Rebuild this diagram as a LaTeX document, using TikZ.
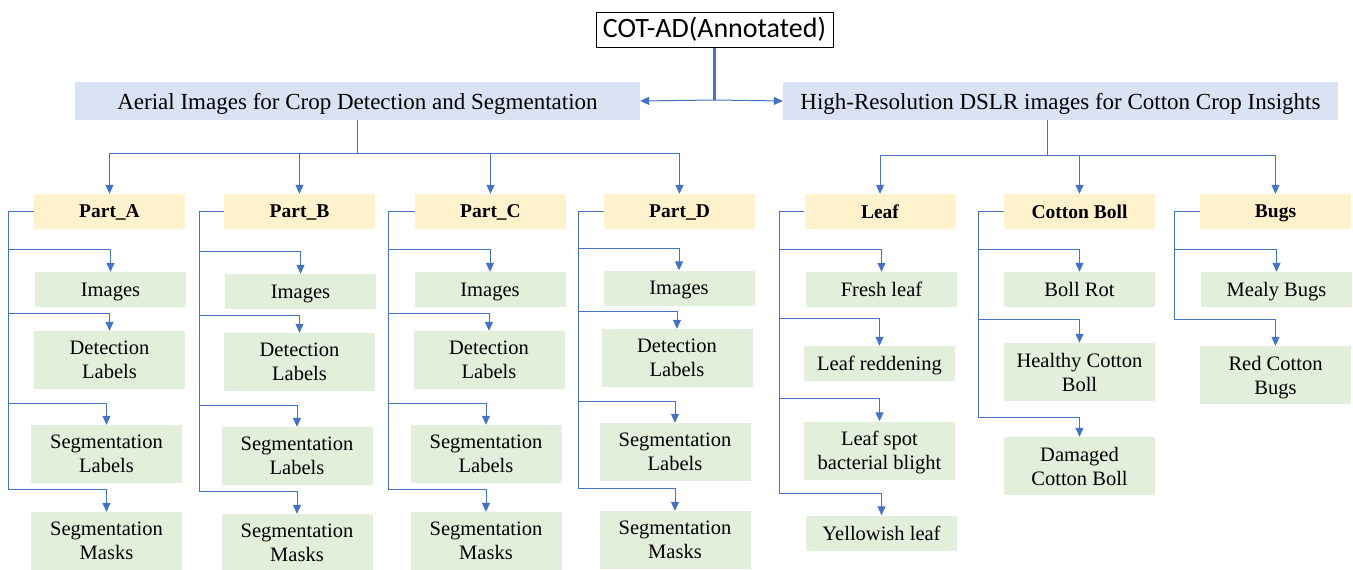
\documentclass[tikz,border=0pt]{standalone}
\usepackage{fontspec}
\setmainfont{Liberation Serif}
\newfontfamily\cotfont{Carlito}
\usepackage{tikz}
\usetikzlibrary{arrows.meta, positioning, calc}

\definecolor{linkblue}{HTML}{4472C4}
\definecolor{groupfill}{HTML}{DAE3F3}
\definecolor{partfill}{HTML}{FFF2CC}
\definecolor{itemfill}{HTML}{E2EFDA}

\begin{document}
\begin{tikzpicture}[x=1pt, y=-1pt,
    root/.style={rectangle, draw=black, fill=white, line width=1pt, minimum width=237pt, minimum height=35pt, inner sep=0pt, font=\cotfont\fontsize{28}{32}\selectfont},
    group/.style={rectangle, fill=groupfill, minimum height=38pt, inner sep=0pt, text depth=0pt, font=\fontsize{23}{27}\selectfont},
    part/.style={rectangle, fill=partfill, minimum width=151pt, minimum height=35pt, inner sep=0pt, text depth=0pt, font=\fontsize{19.5}{23}\selectfont\bfseries},
    item/.style={rectangle, fill=itemfill, minimum width=151pt, minimum height=35pt, inner sep=0pt, text depth=0pt, align=center, font=\fontsize{20.5}{24}\selectfont},
    tall/.style={item, minimum height=58pt},
    arrow/.style={-{Triangle[length=9pt, width=8pt]}, draw=linkblue, line width=1pt},
    stem/.style={draw=linkblue, line width=2.5pt}
]
\useasboundingbox (0,0) rectangle (1353,570);

% Root and groups
\node[root] (cot) at (714.5, 29.5) {COT-AD(Annotated)};
\node[group, minimum width=565pt] (aerial) at (357.5, 101) {Aerial Images for Crop Detection and Segmentation};
\node[group, minimum width=555pt] (hires) at (1060.5, 101) {High-Resolution DSLR images for Cotton Crop Insights};

\coordinate (split) at (714.5, 100);
\draw[stem] (cot.south) -- (split);
\draw[arrow] (split) -- (aerial.east);
\draw[arrow] (split) -- (hires.west);

% Parts
\node[part] (pa) at (109.5, 211.5) {Part\_A};
\node[part] (pb) at (299.5, 211.5) {Part\_B};
\node[part] (pc) at (490.5, 211.5) {Part\_C};
\node[part] (pd) at (679.5, 211.5) {Part\_D};

\coordinate (abus) at (357.5, 153);
\draw[arrow] (aerial.south) -- (abus) -| (pa.north);
\draw[arrow] (aerial.south) -- (abus) -| (pb.north);
\draw[arrow] (aerial.south) -- (abus) -| (pc.north);
\draw[arrow] (aerial.south) -- (abus) -| (pd.north);

% Categories
\node[part] (leaf) at (880, 211.5) {Leaf};
\node[part] (boll) at (1079.5, 211.5) {Cotton Boll};
\node[part] (bugs) at (1275.5, 211.5) {Bugs};

\coordinate (hbus) at (1047, 155);
\draw[arrow] (hbus |- hires.south) -- (hbus) -| (leaf.north);
\draw[arrow] (hbus |- hires.south) -- (hbus) -| (boll.north);
\draw[arrow] (hbus |- hires.south) -- (hbus) -| (bugs.north);

% Part_A items
\coordinate (ra) at (8, 211.5);
\node[item] (pa1) at (110.5, 289.5) {Images};
\node[tall] (pa2) at (109.5, 360) {Detection\\Labels};
\node[tall] (pa3) at (106.5, 454) {Segmentation\\Labels};
\node[tall] (pa4) at (106.5, 541) {Segmentation\\Masks};
\draw[arrow] (pa.west) -- (ra) |- ([yshift=22pt]pa1.north) -- (pa1.north);
\draw[arrow] (pa.west) -- (ra) |- ([yshift=17pt]pa2.north) -- (pa2.north);
\draw[arrow] (pa.west) -- (ra) |- ([yshift=21pt]pa3.north) -- (pa3.north);
\draw[arrow] (pa.west) -- (ra) |- ([yshift=22pt]pa4.north) -- (pa4.north);

% Part_B items
\coordinate (rb) at (199, 211.5);
\node[item] (pb1) at (300.5, 291.5) {Images};
\node[tall] (pb2) at (299.5, 362) {Detection\\Labels};
\node[tall] (pb3) at (297, 456) {Segmentation\\Labels};
\node[tall] (pb4) at (297, 543) {Segmentation\\Masks};
\draw[arrow] (pb.west) -- (rb) |- ([yshift=22pt]pb1.north) -- (pb1.north);
\draw[arrow] (pb.west) -- (rb) |- ([yshift=17pt]pb2.north) -- (pb2.north);
\draw[arrow] (pb.west) -- (rb) |- ([yshift=21pt]pb3.north) -- (pb3.north);
\draw[arrow] (pb.west) -- (rb) |- ([yshift=22pt]pb4.north) -- (pb4.north);

% Part_C items
\coordinate (rc) at (388, 211.5);
\node[item] (pc1) at (490, 289.5) {Images};
\node[tall] (pc2) at (489, 360) {Detection\\Labels};
\node[tall] (pc3) at (486, 454) {Segmentation\\Labels};
\node[tall] (pc4) at (486, 541) {Segmentation\\Masks};
\draw[arrow] (pc.west) -- (rc) |- ([yshift=22pt]pc1.north) -- (pc1.north);
\draw[arrow] (pc.west) -- (rc) |- ([yshift=17pt]pc2.north) -- (pc2.north);
\draw[arrow] (pc.west) -- (rc) |- ([yshift=21pt]pc3.north) -- (pc3.north);
\draw[arrow] (pc.west) -- (rc) |- ([yshift=22pt]pc4.north) -- (pc4.north);

% Part_D items
\coordinate (rd) at (578, 211.5);
\node[item] (pd1) at (679, 288) {Images};
\node[tall] (pd2) at (677, 358) {Detection\\Labels};
\node[tall] (pd3) at (675, 452) {Segmentation\\Labels};
\node[tall] (pd4) at (675, 540) {Segmentation\\Masks};
\draw[arrow] (pd.west) -- (rd) |- ([yshift=22pt]pd1.north) -- (pd1.north);
\draw[arrow] (pd.west) -- (rd) |- ([yshift=17pt]pd2.north) -- (pd2.north);
\draw[arrow] (pd.west) -- (rd) |- ([yshift=21pt]pd3.north) -- (pd3.north);
\draw[arrow] (pd.west) -- (rd) |- ([yshift=22pt]pd4.north) -- (pd4.north);

% Leaf items
\coordinate (rl) at (779, 211.5);
\node[item] (leaf1) at (881.5, 289.5) {Fresh leaf};
\node[item] (leaf2) at (879.5, 363.5) {Leaf reddening};
\node[tall] (leaf3) at (879.5, 450.5) {Leaf spot\\bacterial blight};
\node[item] (leaf4) at (881.5, 533) {Yellowish leaf};
\draw[arrow] (leaf.west) -- (rl) |- ([yshift=22pt]leaf1.north) -- (leaf1.north);
\draw[arrow] (leaf.west) -- (rl) |- ([yshift=27pt]leaf2.north) -- (leaf2.north);
\draw[arrow] (leaf.west) -- (rl) |- ([yshift=23pt]leaf3.north) -- (leaf3.north);
\draw[arrow] (leaf.west) -- (rl) |- ([yshift=22pt]leaf4.north) -- (leaf4.north);

% Cotton Boll items
\coordinate (rcb) at (978, 211.5);
\node[item] (boll1) at (1079.5, 289.5) {Boll Rot};
\node[tall] (boll2) at (1079.5, 372) {Healthy Cotton\\Boll};
\node[tall] (boll3) at (1079.5, 466) {Damaged\\Cotton Boll};
\draw[arrow] (boll.west) -- (rcb) |- ([yshift=22pt]boll1.north) -- (boll1.north);
\draw[arrow] (boll.west) -- (rcb) |- ([yshift=23pt]boll2.north) -- (boll2.north);
\draw[arrow] (boll.west) -- (rcb) |- ([yshift=19pt]boll3.north) -- (boll3.north);

% Bugs items
\coordinate (rbg) at (1174, 211.5);
\node[item] (bugs1) at (1276.5, 289.5) {Mealy Bugs};
\node[tall] (bugs2) at (1275.5, 375) {Red Cotton\\Bugs};
\draw[arrow] (bugs.west) -- (rbg) |- ([yshift=22pt]bugs1.north) -- (bugs1.north);
\draw[arrow] (bugs.west) -- (rbg) |- ([yshift=26pt]bugs2.north) -- (bugs2.north);

\end{tikzpicture}
\end{document}
